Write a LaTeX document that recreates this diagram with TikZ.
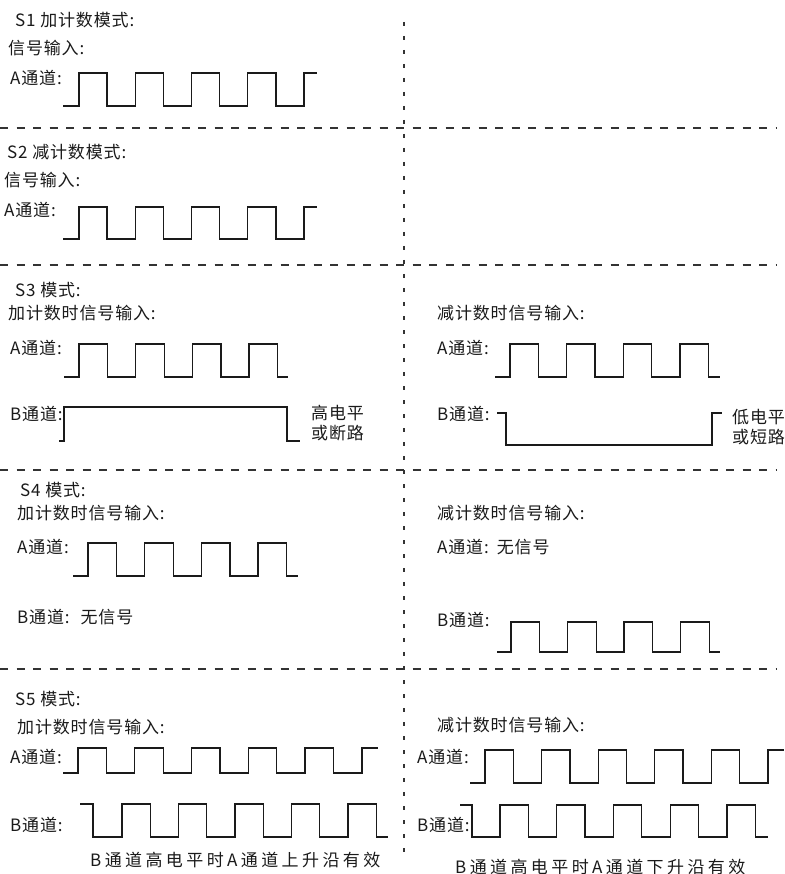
\documentclass[tikz,border=0pt]{standalone}
\usepackage{fontspec}
\usepackage{tikz}
\newfontfamily\cjk[LetterSpace=5]{Noto Sans CJK SC}
\newfontfamily\cjkwide[LetterSpace=20]{Noto Sans CJK SC}
\definecolor{inkdark}{HTML}{1A1A1A}
\definecolor{ruledark}{HTML}{333333}
\tikzset{every node/.append style={font=\cjk\fontsize{17}{20}\selectfont,text=inkdark,inner sep=0pt,anchor=west}}

\begin{document}
\begin{tikzpicture}[x=1pt,y=-1pt,
  wave/.style={inkdark,line width=1.3pt},
  divider/.style={ruledark,line width=1.6pt,dash pattern=on 8pt off 8.5pt},
  vdivider/.style={ruledark,line width=1.6pt,dash pattern=on 4pt off 10pt},
  caption/.style={font=\cjkwide\fontsize{17}{20}\selectfont}]
  \useasboundingbox (0,0) rectangle (784,874);
  % dividers
  \foreach \y in {128,265,470,669} \draw[divider] (0,\y) -- (777,\y);
  \draw[vdivider] (404,22) -- (404,860);

  % S1
  \node (s1title) at (15,20) {S1 加计数模式:};
  \node (s1in) at (8,48) {信号输入:};
  \node (s1a) at (10,78) {A通道:};
  \draw[wave] (63,106) foreach \k in {0,...,3} {-- ({79+56.25*\k},106) |- ++(28.1,-33) -- ++(0,33)} -- (304,106) |- (317,73);

  % S2
  \node (s2title) at (7,152) {S2 减计数模式:};
  \node (s2in) at (4,180) {信号输入:};
  \node (s2a) at (4,210) {A通道:};
  \draw[wave] (63,239) foreach \k in {0,...,3} {-- ({79+56.25*\k},239) |- ++(28.1,-32) -- ++(0,32)} -- (304,239) |- (317,207);

  % S3
  \node (s3title) at (15,290) {S3 模式:};
  \node (s3up) at (8,313) {加计数时信号输入:};
  \node (s3a) at (10,348) {A通道:};
  \node (s3b) at (10,414) {B通道:};
  \node[align=left] (s3high) at (311,423) {高电平\\或断路};
  \draw[wave] (64,377) foreach \k in {0,...,3} {-- ({79+56.67*\k},377) |- ++(28.7,-33) -- ++(0,33)} -- (288,377);
  \draw[wave] (59,441) -| (64,407) -- (287,407) |- (300,441);
  \node (s3down) at (437,313) {减计数时信号输入:};
  \node (s3ra) at (437,348) {A通道:};
  \node (s3rb) at (437,414) {B通道:};
  \node[align=left] (s3low) at (732,427) {低电平\\或短路};
  \draw[wave] (495,377) foreach \k in {0,...,3} {-- ({510+56.67*\k},377) |- ++(28.3,-33) -- ++(0,33)} -- (720,377);
  \draw[wave] (497,413) -| (506,445) -- (712,445) |- (722,413);

  % S4
  \node (s4title) at (20,490) {S4 模式:};
  \node (s4up) at (17,513) {加计数时信号输入:};
  \node (s4a) at (17,547) {A通道:};
  \node (s4b) at (17,617) {B通道:\hspace{11pt}无信号};
  \draw[wave] (73,576) foreach \k in {0,...,3} {-- ({88+56.67*\k},576) |- ++(28.7,-33) -- ++(0,33)} -- (298,576);
  \node (s4down) at (437,513) {减计数时信号输入:};
  \node (s4ra) at (437,547) {A通道:\hspace{8pt}无信号};
  \node (s4rb) at (437,620) {B通道:};
  \draw[wave] (497,652) foreach \k in {0,...,3} {-- ({511+56.5*\k},652) |- ++(28.7,-30) -- ++(0,30)} -- (720,652);

  % S5
  \node (s5title) at (15,699) {S5 模式:};
  \node (s5up) at (17,727) {加计数时信号输入:};
  \node (s5a) at (10,757) {A通道:};
  \node (s5b) at (10,825) {B通道:};
  \draw[wave] (63,773) foreach \k in {0,...,4} {-- ({78+56.75*\k},773) |- ++(28.5,-25) -- ++(0,25)} -- (362,773) |- (378,748);
  \draw[wave] (80,804) -| (93,837) foreach \k in {0,...,4} {-- ({122+56.5*\k},837) |- ++(28.3,-33) -- ++(0,33)} -- (388,837);
  \node[caption] (s5upnote) at (90,860) {B通道高电平时A通道上升沿有效};
  \node (s5down) at (437,725) {减计数时信号输入:};
  \node (s5ra) at (417,757) {A通道:};
  \node (s5rb) at (417,825) {B通道:};
  \draw[wave] (470,783) foreach \k in {0,...,4} {-- ({485+56.6*\k},783) |- ++(28.3,-33) -- ++(0,33)} -- (768,783) |- (784,750);
  \draw[wave] (460,805) -| (472,837) foreach \k in {0,...,4} {-- ({500+56.75*\k},837) |- ++(28.3,-32) -- ++(0,32)} -- (768,837);
  \node[caption] (s5downnote) at (455,867) {B通道高电平时A通道下升沿有效};
\end{tikzpicture}
\end{document}
